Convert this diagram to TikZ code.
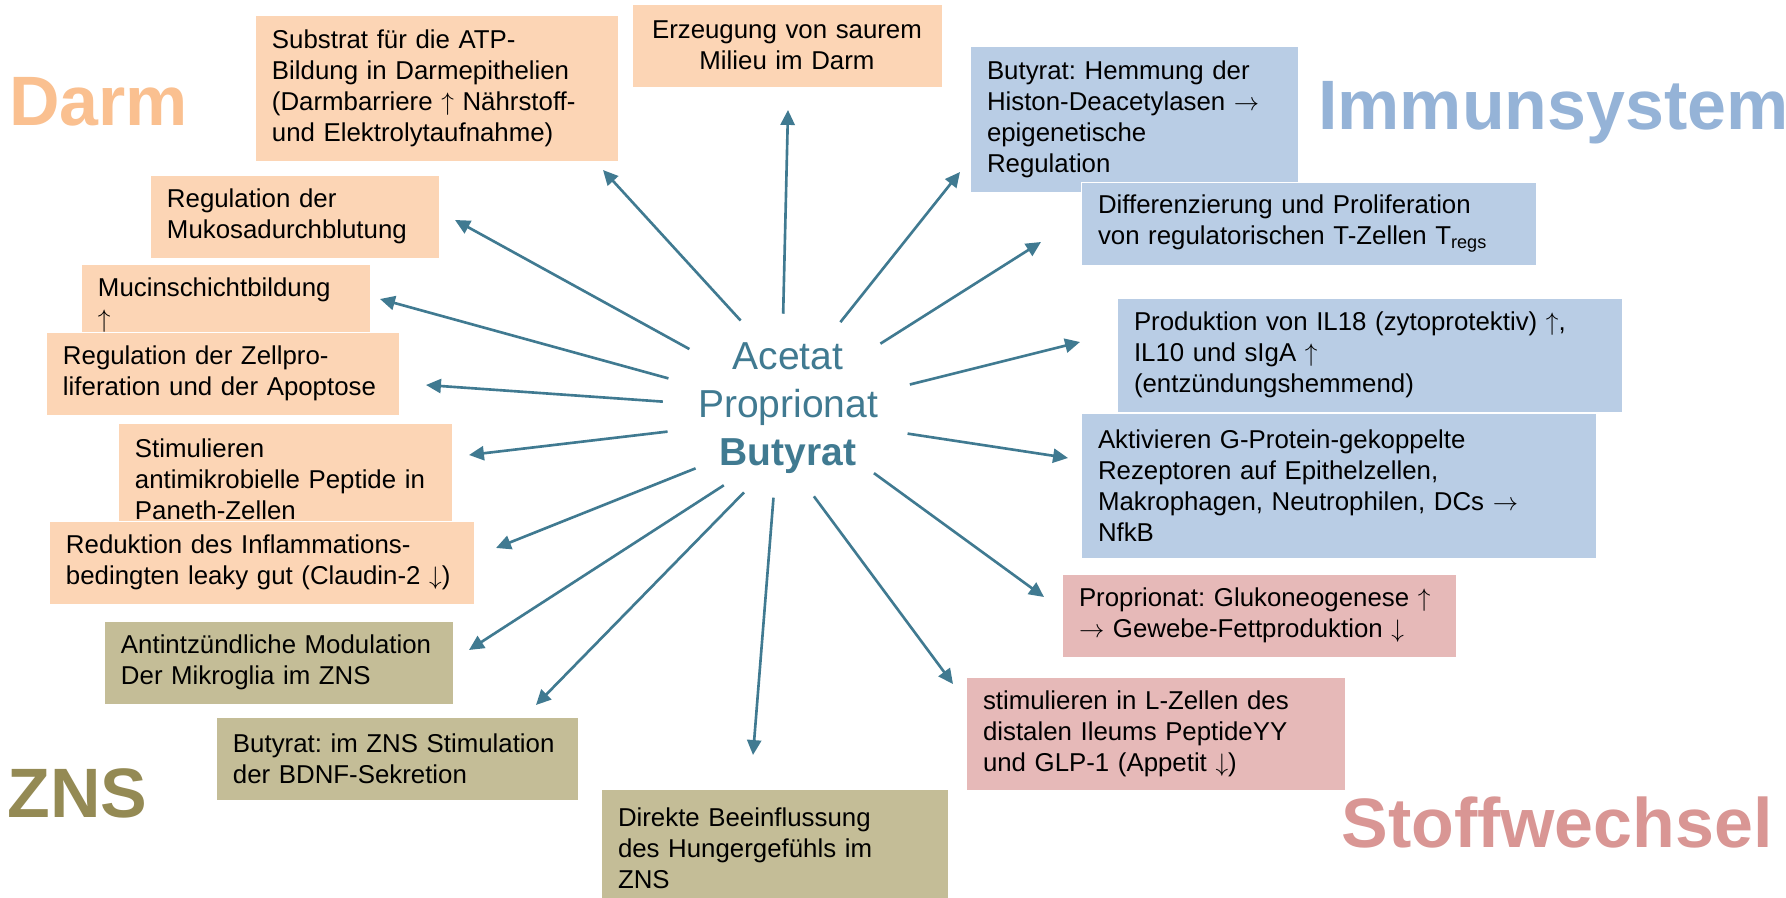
\documentclass[tikz,border=0pt]{standalone}
\usepackage{fontspec}
\setmainfont{Liberation Sans}
\usepackage{tikz}
\usetikzlibrary{shapes.geometric, arrows.meta}
\frenchspacing

\definecolor{darmfill}{HTML}{FCD5B5}
\definecolor{darmlabel}{HTML}{FAC090}
\definecolor{immunfill}{HTML}{B9CDE5}
\definecolor{immunlabel}{HTML}{95B3D7}
\definecolor{stofffill}{HTML}{E6B9B8}
\definecolor{stofflabel}{HTML}{D99694}
\definecolor{znsfill}{HTML}{C4BD97}
\definecolor{znslabel}{HTML}{948A54}
\definecolor{scfa}{HTML}{407A91}

\begin{document}
\begin{tikzpicture}[
    x=0.02cm, y=-0.02cm,
    >={Triangle[length=8.5pt, width=8pt]},
    box/.style={rectangle, draw=white, line width=0.4pt, anchor=north west, align=left, inner xsep=0.34cm, inner ysep=0pt, outer sep=0pt, font=\fontsize{14.7}{17.6}\selectfont},
    darm/.style={box, fill=darmfill},
    immun/.style={box, fill=immunfill},
    stoff/.style={box, fill=stofffill},
    zns/.style={box, fill=znsfill},
    area/.style={anchor=base west, inner sep=0pt, font=\fontsize{39.8}{44}\selectfont\bfseries},
    hub/.style={ellipse, minimum width=5cm, minimum height=3.68cm, inner sep=0pt},
    scfatext/.style={align=center, inner sep=0pt, text=scfa, font=\fontsize{22.2}{27.2}\selectfont},
    ray/.style={->, draw=scfa, fill=scfa, line width=1.5pt}
]
\useasboundingbox (0,0) rectangle (1786,898);
\fill[white] (0,0) rectangle (1786,898);

% ============================================================
% AREA TITLES
% ============================================================
\node[area, text=darmlabel]  (darm-label)  at (9,126)    {Darm};
\node[area, text=immunlabel] (immun-label) at (1318,130) {Immunsystem};
\node[area, text=znslabel]   (zns-label)   at (7,817)    {ZNS};
\node[area, text=stofflabel] (stoff-label) at (1341,847) {Stoffwechsel};

% ============================================================
% CENTRE: SHORT CHAIN FATTY ACIDS
% ============================================================
\node[hub] (hub) at (788,406) {};
\node[scfatext] (scfa) at (788,408) {Acetat\\Proprionat\\\textbf{Butyrat}};

% ============================================================
% DARM
% ============================================================
\node[darm, text width=6.58cm, minimum height=2.92cm] (substrat) at (255,15)
    {Substrat für die ATP-\\Bildung in Darmepithelien\\(Darmbarriere $\uparrow$ Nährstoff-\\und Elektrolytaufnahme)};
\node[darm, text width=5.52cm, minimum height=1.66cm, align=center] (milieu) at (632,4)
    {Erzeugung von saurem\\Milieu im Darm};
\node[darm, text width=5.10cm, minimum height=1.66cm] (mukosa) at (150,175)
    {Regulation der\\Mukosadurchblutung};
\node[darm, text width=5.10cm, minimum height=1.66cm] (mucin) at (81,264)
    {Mucinschichtbildung\\$\uparrow$};
\node[darm, text width=6.38cm, minimum height=1.66cm] (zellpro) at (46,332)
    {Regulation der Zellpro-\\liferation und der Apoptose};
\node[darm, text width=6.00cm, minimum height=2.26cm] (paneth) at (118,423)
    {Stimulieren\\antimikrobielle Peptide in\\Paneth-Zellen};
\node[darm, text width=7.82cm, minimum height=1.66cm] (leaky) at (49,521)
    {Reduktion des Inflammations-\\bedingten leaky gut (Claudin-2 $\downarrow$)};

% ============================================================
% ZNS
% ============================================================
\node[zns, text width=6.30cm, minimum height=1.66cm] (mikroglia) at (104,621)
    {Antintzündliche Modulation\\Der Mikroglia im ZNS};
\node[zns, text width=6.56cm, minimum height=1.66cm] (bdnf) at (216,717)
    {Butyrat: im ZNS Stimulation\\der BDNF-Sekretion};
\node[zns, text width=6.26cm, minimum height=2.36cm] (hunger) at (601,789)
    {Direkte Beeinflussung\\des Hungergefühls im\\ZNS};

% ============================================================
% IMMUNSYSTEM
% ============================================================
\node[immun, text width=5.88cm, minimum height=2.92cm] (hdac) at (970,46)
    {Butyrat: Hemmung der\\Histon-Deacetylasen $\rightarrow$\\epigenetische\\Regulation};
\node[immun, text width=8.42cm, minimum height=1.66cm] (tregs) at (1081,182)
    {Differenzierung und Proliferation\\von regulatorischen T-Zellen T\textsubscript{regs}};
\node[immun, text width=9.42cm, minimum height=2.28cm] (il18) at (1117,298)
    {Produktion von IL18 (zytoprotektiv) $\uparrow$,\\IL10 und sIgA $\uparrow$\\(entzündungshemmend)};
\node[immun, text width=9.62cm, minimum height=2.90cm] (gpcr) at (1081,413)
    {Aktivieren G-Protein-gekoppelte\\Rezeptoren auf Epithelzellen,\\Makrophagen, Neutrophilen, DCs $\rightarrow$\\NfkB};

% ============================================================
% STOFFWECHSEL
% ============================================================
\node[stoff, text width=7.20cm, minimum height=1.66cm] (gluko) at (1062,574)
    {Proprionat: Glukoneogenese $\uparrow$\\$\rightarrow$ Gewebe-Fettproduktion $\downarrow$};
\node[stoff, text width=6.90cm, minimum height=2.26cm] (lzellen) at (966,677)
    {stimulieren in L-Zellen des\\distalen Ileums PeptideYY\\und GLP-1 (Appetit $\downarrow$)};

% ============================================================
% ARROWS OUT OF THE CENTRE
% ============================================================
\coordinate (t-substrat) at (603,170);
\coordinate (t-milieu)   at (788,110);
\coordinate (t-hdac)     at (960,172);
\coordinate (t-tregs)    at (1041,242);
\coordinate (t-il18)     at (1080,342);
\coordinate (t-gpcr)     at (1068,458);
\coordinate (t-gluko)    at (1044,597);
\coordinate (t-lzellen)  at (953,684);
\coordinate (t-hunger)   at (753,755);
\coordinate (t-bdnf)     at (536,705);
\coordinate (t-mikroglia) at (469,650);
\coordinate (t-leaky)    at (496,548);
\coordinate (t-paneth)   at (469,455);
\coordinate (t-zellpro)  at (426,385);
\coordinate (t-mucin)    at (380,299);
\coordinate (t-mukosa)   at (455,220);

\draw[ray] (hub.119)  -- (t-substrat);
\draw[ray] (hub.93)   -- (t-milieu);
\draw[ray] (hub.58)   -- (t-hdac);
\draw[ray] (hub.34)   -- (t-tregs);
\draw[ray] (hub.10)   -- (t-il18);
\draw[ray] (hub.-13)  -- (t-gpcr);
\draw[ray] (hub.-38)  -- (t-gluko);
\draw[ray] (hub.-74)  -- (t-lzellen);
\draw[ray] (hub.-99)  -- (t-hunger);
\draw[ray] (hub.-117) -- (t-bdnf);
\draw[ray] (hub.-129) -- (t-mikroglia);
\draw[ray] (hub.-146) -- (t-leaky);
\draw[ray] (hub.-168) -- (t-paneth);
\draw[ray] (hub.178)  -- (t-zellpro);
\draw[ray] (hub.167)  -- (t-mucin);
\draw[ray] (hub.150)  -- (t-mukosa);

\end{tikzpicture}
\end{document}
